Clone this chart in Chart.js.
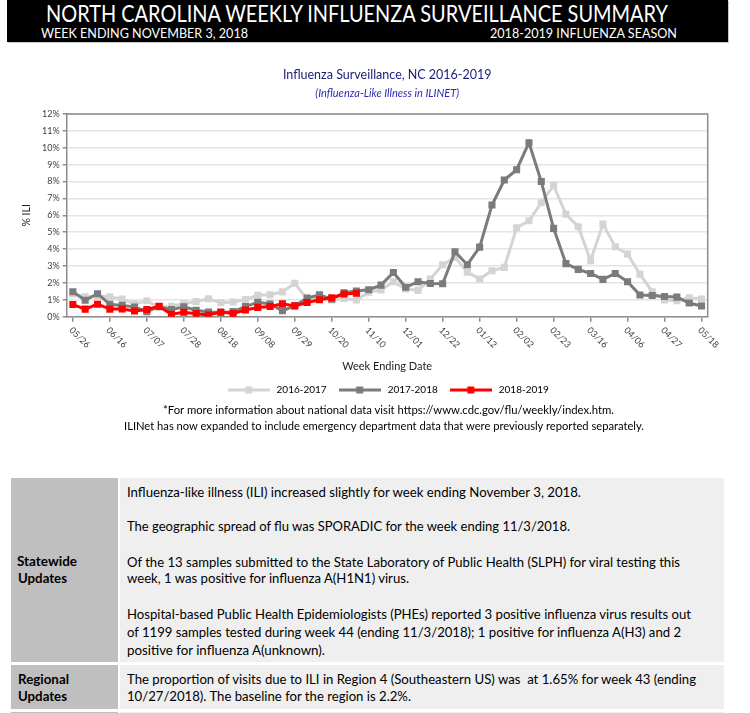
<!DOCTYPE html>
<html lang="en">
<head>
  <meta charset="UTF-8">
  <title>North Carolina Weekly Influenza Surveillance Summary</title>
  <style>
    body {
      margin: 0;
      width: 750px;
      height: 713px;
      position: relative;
      overflow: hidden;
      background: #fff;
      font-family: Lato, "Open Sans", sans-serif;
    }

    .line {
      position: absolute;
      white-space: nowrap;
      transform-origin: left center;
      line-height: 16px;
    }

    /* black banner on top */
    #banner {
      position: absolute;
      left: 7px;
      top: 0;
      width: 721px;
      height: 42px;
      background: #000;
      box-shadow: 1px 1px 0 #c8c8c8;
    }

    #chartBox {
      position: absolute;
      left: 0;
      top: 50px;
      width: 750px;
      height: 355px;
    }

    .cell {
      position: absolute;
    }

    .lab { background: #bfbfbf; }
    .txt { background: #efefef; }
  </style>
  <script src="https://cdn.jsdelivr.net/npm/chart.js"></script>
</head>
<body>
  <div id="banner"></div>
  <div class="line" data-w="622" style="left:46px;top:2px;line-height:22px;font-size:23px;color:#fff;">NORTH CAROLINA WEEKLY INFLUENZA SURVEILLANCE SUMMARY</div>
  <div class="line" data-w="207" style="left:41px;top:25px;font-size:13px;color:#fff;">WEEK ENDING NOVEMBER 3, 2018</div>
  <div class="line" data-w="187" style="left:490px;top:25px;font-size:13px;color:#fff;">2018-2019 INFLUENZA SEASON</div>

  <div id="chartBox"><canvas id="iliChart"></canvas></div>

  <!-- notes under the chart -->
  <div class="line" data-w="451" style="left:163px;top:402px;font-size:11.5px;">*For more information about national data visit https://www.cdc.gov/flu/weekly/index.htm.</div>
  <div class="line" data-w="520" style="left:124px;top:418px;font-size:11.5px;">ILINet has now expanded to include emergency department data that were previously reported separately.</div>

  <!-- update table -->
  <div class="cell lab" style="left:11px;top:478px;width:107px;height:184px;"></div>
  <div class="cell txt" style="left:120px;top:478px;width:604px;height:184px;"></div>
  <div class="cell lab" style="left:11px;top:665px;width:107px;height:44px;"></div>
  <div class="cell txt" style="left:120px;top:665px;width:604px;height:44px;"></div>
  <div class="cell lab" style="left:11px;top:712px;width:107px;height:10px;"></div>
  <div class="cell txt" style="left:120px;top:712px;width:604px;height:10px;"></div>

  <div class="line" data-w="60" style="left:17px;top:553px;font-size:13.5px;font-weight:bold;">Statewide</div>
  <div class="line" data-w="49" style="left:18px;top:570px;font-size:13.5px;font-weight:bold;">Updates</div>
  <div class="line" data-w="51" style="left:18px;top:671px;font-size:13.5px;font-weight:bold;">Regional</div>
  <div class="line" data-w="49" style="left:18px;top:688px;font-size:13.5px;font-weight:bold;">Updates</div>

  <div class="line" data-w="454" style="left:127px;top:484px;font-size:13.5px;">Influenza-like illness (ILI) increased slightly for week ending November 3, 2018.</div>
  <div class="line" data-w="443" style="left:127px;top:518px;font-size:13.5px;">The geographic spread of flu was SPORADIC for the week ending 11/3/2018.</div>
  <div class="line" data-w="553" style="left:127px;top:554px;font-size:13.5px;">Of the 13 samples submitted to the State Laboratory of Public Health (SLPH) for viral testing this</div>
  <div class="line" data-w="282" style="left:127px;top:570px;font-size:13.5px;">week, 1 was positive for influenza A(H1N1) virus.</div>
  <div class="line" data-w="564" style="left:127px;top:606px;font-size:13.5px;">Hospital-based Public Health Epidemiologists (PHEs) reported 3 positive influenza virus results out</div>
  <div class="line" data-w="554" style="left:127px;top:624px;font-size:13.5px;">of 1199 samples tested during week 44 (ending 11/3/2018); 1 positive for influenza A(H3) and 2</div>
  <div class="line" data-w="198" style="left:127px;top:642px;font-size:13.5px;">positive for influenza A(unknown).</div>
  <div class="line" data-w="569" style="left:127px;top:671px;font-size:13.5px;">The proportion of visits due to ILI in Region 4 (Southeastern US) was&nbsp; at 1.65% for week 43 (ending</div>
  <div class="line" data-w="284" style="left:127px;top:688px;font-size:13.5px;">10/27/2018). The baseline for the region is 2.2%.</div>

  <script>
    // week ending dates, 05/26 through 05/18
    const weekLabels = [
      '05/26', '06/02', '06/09', '06/16', '06/23', '06/30', '07/07', '07/14', '07/21', '07/28',
      '08/04', '08/11', '08/18', '08/25', '09/01', '09/08', '09/15', '09/22', '09/29', '10/06',
      '10/13', '10/20', '10/27', '11/03', '11/10', '11/17', '11/24', '12/01', '12/08', '12/15',
      '12/22', '12/29', '01/05', '01/12', '01/19', '01/26', '02/02', '02/09', '02/16', '02/23',
      '03/02', '03/09', '03/16', '03/23', '03/30', '04/06', '04/13', '04/20', '04/27', '05/04',
      '05/11', '05/18'
    ];

    // weeks that get a label under the axis
    const xTickLabels = [
      '05/26', '06/16', '07/07', '07/28', '08/18', '09/08', '09/29', '10/20', '11/10',
      '12/01', '12/22', '01/12', '02/02', '02/23', '03/16', '04/06', '04/27', '05/18'
    ];

    // % ILI per week
    const season2016 = [
      1.35, 1.18, 1.22, 1.18, 1.04, 0.76, 0.94, 0.55, 0.62, 0.78,
      0.90, 1.06, 0.83, 0.87, 1.02, 1.27, 1.30, 1.47, 1.98, 1.05,
      1.04, 0.99, 1.08, 0.99, 1.45, 1.58, 2.07, 1.64, 1.56, 2.23,
      3.08, 3.51, 2.64, 2.23, 2.72, 2.92, 5.27, 5.68, 6.75, 7.77,
      6.06, 5.33, 3.31, 5.48, 4.14, 3.71, 2.52, 1.48, 0.99, 0.95,
      1.12, 1.05
    ];
    const season2017 = [
      1.48, 0.97, 1.36, 0.74, 0.67, 0.57, 0.30, 0.60, 0.42, 0.58,
      0.38, 0.28, 0.25, 0.30, 0.60, 0.86, 0.75, 0.35, 0.65, 1.10,
      1.30, 1.04, 1.42, 1.52, 1.60, 1.87, 2.62, 1.74, 2.07, 1.97,
      1.95, 3.85, 3.08, 4.12, 6.61, 8.09, 8.70, 10.30, 8.00, 5.23,
      3.14, 2.80, 2.56, 2.21, 2.56, 2.07, 1.28, 1.26, 1.20, 1.16,
      0.81, 0.63
    ];
    const season2018 = [
      0.72, 0.45, 0.74, 0.45, 0.46, 0.34, 0.43, 0.61, 0.15, 0.26,
      0.18, 0.10, 0.28, 0.19, 0.40, 0.55, 0.60, 0.76, 0.64, 0.84,
      1.00, 1.12, 1.34, 1.39
    ];

    const seasonNames = ['2016-2017', '2017-2018', '2018-2019'];
    const seasonColors = ['#d4d4d4', '#7b7b7b', '#ff0000'];

    // squeeze each text line to the width it has in the original
    document.querySelectorAll('.line').forEach(el => {
      const w = parseFloat(el.dataset.w);
      const natural = el.getBoundingClientRect().width;
      if (w && natural) el.style.transform = 'scaleX(' + (w / natural) + ')';
    });

    // legend swatch: a short line with a square in the middle
    function makeSwatch(color) {
      const c = document.createElement('canvas');
      c.width = 42;
      c.height = 10;
      const g = c.getContext('2d');
      g.strokeStyle = color;
      g.lineWidth = 3;
      g.beginPath();
      g.moveTo(0, 5);
      g.lineTo(42, 5);
      g.stroke();
      g.fillStyle = color;
      g.fillRect(17.5, 1.5, 7, 7);
      return c;
    }

    // top and right edge of the plot area
    const plotFrame = {
      id: 'plotFrame',
      beforeDatasetsDraw(chart) {
        const { ctx, chartArea: a } = chart;
        ctx.save();
        ctx.strokeStyle = '#8c8c8c';
        ctx.lineWidth = 1.5;
        ctx.beginPath();
        ctx.moveTo(a.left, a.top);
        ctx.lineTo(a.right, a.top);
        ctx.lineTo(a.right, a.bottom);
        ctx.stroke();
        ctx.restore();
      }
    };

    // date labels slanted downwards, starting at the tick
    const slantedLabels = {
      id: 'slantedLabels',
      afterDraw(chart) {
        const { ctx } = chart;
        const x = chart.scales.x;
        ctx.save();
        ctx.font = '9px Lato';
        ctx.fillStyle = '#404040';
        ctx.textAlign = 'left';
        ctx.textBaseline = 'middle';
        weekLabels.forEach((lab, i) => {
          if (!xTickLabels.includes(lab)) return;
          ctx.save();
          ctx.translate(x.getPixelForValue(i) - 2, x.top + 12);
          ctx.rotate(Math.PI / 4);
          ctx.fillText(lab, 0, 0);
          ctx.restore();
        });
        ctx.restore();
      }
    };

    const seriesData = [season2016, season2017, season2018];

    new Chart(document.getElementById('iliChart'), {
      type: 'line',
      data: {
        labels: weekLabels,
        datasets: seriesData.map((vals, k) => ({
          label: seasonNames[k],
          data: vals,
          borderColor: seasonColors[k],
          backgroundColor: seasonColors[k],
          borderWidth: 3,
          pointStyle: 'rect',
          pointRadius: 5,
          pointHoverRadius: 5,
          pointBorderWidth: 0,
          tension: 0,
          fill: false,
          order: 2 - k
        }))
      },
      options: {
        responsive: true,
        maintainAspectRatio: false,
        animation: false,
        layout: { padding: { left: 0, right: 42.3, top: 0, bottom: 0 } },
        plugins: {
          tooltip: { enabled: false },
          title: {
            display: true,
            fullSize: false,
            text: 'Influenza Surveillance, NC 2016-2019',
            color: '#1c1c7a',
            font: { family: 'Lato', size: 12.5, weight: 'normal' },
            padding: { top: 17.5, bottom: 4 }
          },
          subtitle: {
            display: true,
            fullSize: false,
            text: '(Influenza-Like Illness in ILINET)',
            color: '#2d2db0',
            font: { family: 'Lato', size: 11, style: 'italic' },
            padding: { top: 0, bottom: 14.3 }
          },
          legend: {
            position: 'bottom',
            fullSize: false,
            labels: {
              color: '#000',
              font: { family: 'Lato', size: 10 },
              padding: 10,
              boxHeight: 10,
              usePointStyle: true,
              pointStyleWidth: 46,
              sort: (a, b) => a.datasetIndex - b.datasetIndex,
              generateLabels(chart) {
                const items = Chart.defaults.plugins.legend.labels.generateLabels(chart);
                items.forEach(it => { it.pointStyle = makeSwatch(seasonColors[it.datasetIndex]); });
                return items;
              }
            }
          }
        },
        scales: {
          x: {
            offset: true,
            ticks: { display: false, autoSkip: false },
            grid: {
              offset: false,
              drawOnChartArea: false,
              drawTicks: true,
              tickLength: 5,
              lineWidth: 1.5,
              color: c => xTickLabels.includes(weekLabels[c.index]) ? '#8c8c8c' : 'rgba(0,0,0,0)'
            },
            border: { display: true, color: '#8c8c8c', width: 1.5 },
            title: {
              display: true,
              text: 'Week Ending Date',
              color: '#222',
              font: { family: 'Lato', size: 11 },
              padding: { top: 0, bottom: 2.4 }
            },
            afterFit: s => { s.height = 58.3; }
          },
          y: {
            min: 0,
            max: 12,
            ticks: {
              stepSize: 1,
              padding: 3,
              color: '#404040',
              font: { family: 'Lato', size: 9 },
              callback: v => v + '%'
            },
            grid: {
              color: '#e4e4e4',
              lineWidth: 1.5,
              tickLength: 4,
              tickColor: '#8c8c8c'
            },
            border: { display: true, color: '#8c8c8c', width: 1.5 },
            title: {
              display: true,
              text: '% ILI',
              color: '#222',
              font: { family: 'Lato', size: 10.5 },
              padding: { top: 20.7, bottom: 0 }
            },
            afterFit: s => { s.width = 66.7; }
          }
        }
      },
      plugins: [plotFrame, slantedLabels]
    });
  </script>
</body>
</html>
